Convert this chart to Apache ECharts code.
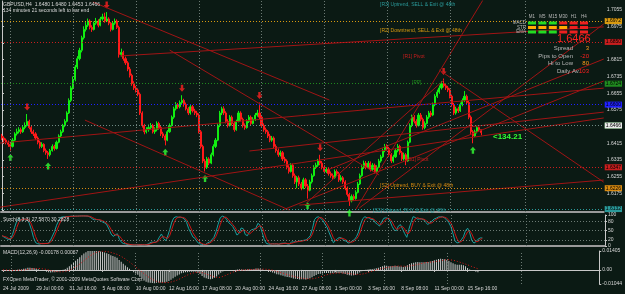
<!DOCTYPE html>
<html>
<head>
<meta charset="utf-8">
<script src="https://cdn.jsdelivr.net/npm/echarts@6/dist/echarts.min.js"></script>
<style>
  html, body { margin: 0; padding: 0; background: #0b1a14; }
  #chart { width: 625px; height: 294px; }
</style>
</head>
<body>
<div id="chart"></div>
<script>
// GBPUSD H4, prices stored as pips above 1.6000
const PIP_BASE = 1.6;
const firstOpen = 450;
const closes = [
  440,430,420,410,400,430,460,470,480,470,490,500,520,490,470,460,
  440,420,400,410,380,370,360,380,400,390,
  420,450,470,500,520,560,620,680,720,780,820,860,920,960,
  980,1000,970,960,990,1000,980,1010,1020,1000,1010,990,
  960,990,1000,970,840,
  850,820,800,770,740,700,680,670,650,
  560,500,470,480,
  490,500,470,480,510,490,460,450,430,470,
  500,540,580,600,590,610,620,
  600,580,560,590,570,560,550,
  470,400,330,300,340,320,360,
  400,430,500,560,580,
  560,520,500,540,510,480,520,560,530,500,490,
  520,540,510,530,550,560,540,
  500,480,470,450,430,440,400,380,360,370,340,330,
  300,280,310,260,230,250,220,200,240,210,190,
  230,260,300,310,330,320,300,280,290,270,
  260,250,280,270,240,250,230,
  200,170,140,160,150,180,
  220,260,300,320,
  300,320,290,310,280,300,330,
  350,380,400,390,360,330,350,380,400,370,340,360,330,
  420,500,540,
  520,500,550,530,490,510,540,560,550,
  600,640,660,
  680,700,690,680,670,
  640,600,560,580,570,
  600,620,640,610,
  540,470,450,
  470,490,480,466
];
const highs = [
  460,448,438,428,418,440,468,485,492,490,500,515,555,528,498,480,
  468,448,428,420,415,390,378,388,410,408,
  428,458,480,508,530,568,630,690,735,790,832,872,930,975,
  995,1012,1008,980,998,1015,1008,1020,1035,1040,1043,1018,
  995,1000,1012,1008,978,
  868,858,830,808,780,748,712,690,678,
  658,568,508,492,
  505,512,508,492,520,518,498,470,458,478,
  510,548,590,612,608,620,645,
  628,610,588,598,598,580,570,
  558,478,408,340,350,348,370,
  410,440,510,570,590,
  592,568,530,550,548,518,528,570,568,538,510,
  530,550,548,540,560,575,610,
  548,510,490,478,460,450,448,410,390,380,378,350,
  338,310,320,318,270,258,260,230,250,248,220,
  240,270,310,322,340,360,330,310,300,298,
  280,270,290,290,278,262,258,
  238,208,178,170,170,190,
  230,270,310,332,
  330,330,328,320,318,310,340,
  360,390,412,410,398,368,360,390,412,408,378,370,368,
  428,510,552,
  550,530,560,560,538,520,550,570,570,
  610,650,672,
  692,712,725,700,690,
  678,648,608,590,590,
  610,630,665,648,
  618,548,478,
  480,498,495,480
];
const lows = [
  430,420,410,398,380,395,425,452,462,460,465,482,495,482,460,450,
  432,410,390,392,372,360,340,352,375,380,
  385,415,442,465,492,515,555,612,672,712,770,812,850,912,
  950,972,960,948,955,982,970,975,1002,992,995,980,
  950,955,982,962,825,
  830,810,790,760,730,690,670,658,640,
  550,490,458,462,
  470,482,462,460,472,480,450,440,405,425,
  465,495,532,572,580,582,602,
  590,572,550,552,562,550,540,
  462,390,320,280,292,310,315,
  352,392,425,492,550,
  550,510,490,495,500,470,475,515,520,490,480,
  485,512,500,505,522,542,530,
  490,470,460,440,420,422,390,370,350,352,330,320,
  290,270,275,250,220,200,210,190,195,200,150,
  185,222,255,292,302,310,290,270,272,260,
  250,240,245,260,230,232,220,
  190,160,115,132,140,145,
  175,215,255,292,
  290,292,280,282,270,272,295,
  322,345,372,380,350,320,322,345,372,360,330,332,310,
  325,415,492,
  510,490,495,520,480,482,505,532,540,
  545,592,632,
  652,672,682,670,660,
  630,590,550,552,560,
  565,592,612,600,
  530,460,415,
  445,462,470,453
];
const tickLabels = ['24 Jul 2009','29 Jul 00:00','31 Jul 16:00','5 Aug 08:00','10 Aug 00:00',
  '12 Aug 16:00','17 Aug 08:00','20 Aug 00:00','24 Aug 16:00','27 Aug 08:00','1 Sep 00:00',
  '3 Sep 16:00','8 Sep 08:00','11 Sep 00:00','15 Sep 16:00'];
const priceTicks = [1.6095,1.6175,1.6255,1.6335,1.6415,1.6495,1.6575,1.6655,1.6735,1.6815,1.6895,1.6975,1.7055];
const weekStarts = [4, 34, 64, 94, 124, 154, 184, 214, 250];
const fractalHighs = [12, 50, 86, 123, 152, 211];
const fractalLows = [4, 22, 78, 97, 146, 166, 225];
// pivot levels: [price, line colour]
const pivotLevels = [
  [1.7090, '#2a9a9a'], [1.6972, '#d89a10'], [1.6850, '#c81e1e'], [1.6724, '#1f8a1f'],
  [1.6600, '#2020ff'], [1.6488, '#1f8a1f'], [1.6347, '#c81e1e'], [1.6226, '#d88a10'], [1.6132, '#2a9a9a']
];
const bidPrice = 1.6466;
// trend lines in (bar index, price)
const trendLines = [
  [[43.4,1.7091],[156.4,1.6622]], [[39.6,1.6526],[137.3,1.6095]], [[-1,1.6109],[287.5,1.6536]],
  [[-1,1.6416],[287.5,1.6679]], [[80.1,1.6861],[180.2,1.6263]], [[168.8,1.6095],[229.8,1.7101]],
  [[170.7,1.6105],[287.5,1.6986]], [[208.9,1.6766],[287.5,1.6229]], [[156.4,1.6291],[287.5,1.6818]],
  [[118.2,1.6378],[287.5,1.6564]], [[134,1.6095],[287.5,1.6713]], [[142.1,1.6119],[287.5,1.6239]],
  [[145.4,1.6129],[211.2,1.6718]], [[56.2,1.6833],[287.5,1.6972]]
];
const SLOTS = 288;

const px = p => +(PIP_BASE + p / 10000).toFixed(4);
const n = closes.length;
const opens = closes.map((c, i) => i === 0 ? firstOpen : closes[i - 1]);
const candles = closes.map((c, i) => [px(opens[i]), px(c), px(lows[i]), px(highs[i])]);
const cats = Array.from({ length: SLOTS }, (_, i) => i);

// Stochastic (8,3,3)
function sma(arr, p) {
  return arr.map((v, i) => {
    const s = arr.slice(Math.max(0, i - p + 1), i + 1);
    return s.reduce((a, b) => a + b, 0) / s.length;
  });
}
const stochMain = [];
for (let i = 0; i < n; i++) {
  let num = 0, den = 0;
  for (let j = Math.max(0, i - 2); j <= i; j++) {
    let hh = -1e9, ll = 1e9;
    for (let m = Math.max(0, j - 7); m <= j; m++) { hh = Math.max(hh, highs[m]); ll = Math.min(ll, lows[m]); }
    num += closes[j] - ll; den += hh - ll;
  }
  stochMain.push(den ? 100 * num / den : 50);
}
const stochSig = sma(stochMain, 3);

// MACD (12,26,9)
function ema(arr, p) {
  const k = 2 / (p + 1); let e = arr[0];
  return arr.map(v => (e = v * k + e * (1 - k)));
}
const cp = closes.map(px);
const e12 = ema(cp, 12), e26 = ema(cp, 26);
const macd = cp.map((v, i) => e12[i] - e26[i]);
const macdSig = sma(macd, 9);

const FONT = 'Liberation Sans';
const gridV = weekStarts.map(w => ({ xAxis: w }));
const vLineStyle = { color: '#6c7a74', type: [1, 2], width: 1 };

function catAxis(grid, showLabels) {
  return {
    type: 'category', gridIndex: grid, data: cats, boundaryGap: true,
    axisLine: { lineStyle: { color: showLabels ? '#c8c8c8' : '#9a9a9a', width: showLabels ? 1 : 2 } },
    axisTick: showLabels ? { show: true, length: 2, alignWithLabel: true, interval: i => i % 16 === 0 && i <= 224, lineStyle: { color: '#c8c8c8' } } : { show: false },
    axisLabel: showLabels ? {
      show: true, interval: i => i % 16 === 0 && i <= 224, align: 'left', margin: 2,
      fontSize: 5, fontFamily: FONT, color: '#d8d8d8',
      formatter: (v, i) => tickLabels[i / 16] || ''
    } : { show: false },
    splitLine: { show: false }
  };
}
function valAxis(grid, min, max, ticks, fmt) {
  return {
    type: 'value', gridIndex: grid, position: 'right', min, max,
    axisLine: { show: true, lineStyle: { color: '#c8c8c8' } },
    axisTick: { show: true, length: 2, customValues: ticks, lineStyle: { color: '#c8c8c8' } },
    axisLabel: { show: true, customValues: ticks, formatter: fmt, fontSize: 5, fontFamily: FONT, color: '#d8d8d8', margin: 3 },
    splitLine: { show: false }
  };
}

const pivotMarks = pivotLevels.map(([p, c]) => ({
  yAxis: p, lineStyle: { color: c, type: [1, 2], width: 1 },
  label: { show: true, position: 'end', distance: 1, formatter: p.toFixed(4), backgroundColor: c, color: '#000', fontSize: 5, fontFamily: FONT, padding: [1, 1, 0, 1] }
}));
pivotMarks.push({
  yAxis: bidPrice, lineStyle: { color: '#6f8a84', type: [1, 2], width: 1 },
  label: { show: true, position: 'end', distance: 1, formatter: bidPrice.toFixed(4), backgroundColor: '#e8e8e8', color: '#000', fontSize: 5, fontFamily: FONT, padding: [1, 1, 0, 1] }
});

const arrowDown = 'path://M3,0 L7,0 L7,5 L10,5 L5,10 L0,5 L3,5 Z';
const arrowUp = 'path://M5,0 L10,5 L7,5 L7,10 L3,10 L3,5 L0,5 Z';

const series = [
  {
    type: 'candlestick', xAxisIndex: 0, yAxisIndex: 0, data: candles, barWidth: 1.6,
    itemStyle: { color: '#11ee11', color0: '#ff1a1a', borderColor: '#11ee11', borderColor0: '#ff1a1a', borderWidth: 1 },
    markLine: { silent: true, symbol: 'none', animation: false, data: gridV.map(d => Object.assign({ lineStyle: vLineStyle, label: { show: false } }, d)).concat(pivotMarks) }
  },
  {
    type: 'scatter', xAxisIndex: 0, yAxisIndex: 0, symbol: arrowDown, symbolSize: [6, 7], symbolOffset: [0, -7],
    itemStyle: { color: '#ff2020' }, data: fractalHighs.map(i => [i, px(highs[i])])
  },
  {
    type: 'scatter', xAxisIndex: 0, yAxisIndex: 0, symbol: arrowUp, symbolSize: [6, 7], symbolOffset: [0, 7],
    itemStyle: { color: '#33ff33' }, data: fractalLows.map(i => [i, px(lows[i])])
  }
];
trendLines.forEach(l => series.push({
  type: 'line', xAxisIndex: 3, yAxisIndex: 0, data: l, symbol: 'none', silent: true,
  lineStyle: { color: '#a01414', width: 1 }
}));
series.push(
  {
    type: 'line', xAxisIndex: 1, yAxisIndex: 1, data: stochMain, symbol: 'none', lineStyle: { color: '#1aa0a0', width: 1 },
    markLine: { silent: true, symbol: 'none', animation: false, label: { show: false },
      data: [20, 50, 80].map(v => ({ yAxis: v, lineStyle: vLineStyle })).concat(gridV.map(d => Object.assign({ lineStyle: vLineStyle }, d))) }
  },
  { type: 'line', xAxisIndex: 1, yAxisIndex: 1, data: stochSig, symbol: 'none', lineStyle: { color: '#d01414', width: 1 } },
  {
    type: 'bar', xAxisIndex: 2, yAxisIndex: 2, data: macd, barWidth: 1, itemStyle: { color: '#c8c8c8' },
    markLine: { silent: true, symbol: 'none', animation: false, label: { show: false }, data: gridV.map(d => Object.assign({ lineStyle: vLineStyle }, d)) }
  },
  { type: 'line', xAxisIndex: 2, yAxisIndex: 2, data: macdSig, symbol: 'none', lineStyle: { color: '#e01818', width: 1, type: [1, 2] } }
);

function txt(x, y, text, fill, size, align, weight) {
  return { type: 'text', x, y, silent: true, z: 100,
    style: { text, fill, font: (weight || 'normal') + ' ' + size + 'px ' + FONT, align: align || 'left', verticalAlign: 'middle' } };
}
const graphics = [
  txt(3, 5, 'GBPUSD,H4  1.6480 1.6480 1.6453 1.6466', '#d8d8d8', 5),
  txt(3, 11, '134 minutes 21 seconds left to bar end', '#d8d8d8', 5),
  txt(380, 5, '[R3] Uptrend, SELL & Exit @ 48th', '#2a9a9a', 5),
  txt(380, 31, '[R2] Downtrend, SELL & Exit @ 48th', '#d89a10', 5),
  txt(403, 57, '[R1] Pivot', '#c81e1e', 5),
  txt(412, 83, '[PP]', '#1f8a1f', 5),
  txt(407, 160, '[S1] Pivot', '#c81e1e', 5),
  txt(380, 186, '[S2] Uptrend, BUY & Exit @ 48th', '#d88a10', 5),
  txt(373, 211, '[S3] Uptrend, BUY & Exit @ 48th', '#2a9a9a', 5),
  txt(493, 137, '<134.21', '#33ff33', 8, 'left', 'bold'),
  txt(3, 220, 'Stoch(8,3,3) 27.5870 30.2828', '#d8d8d8', 5),
  txt(3, 253, 'MACD(12,26,9) -0.00178 0.00067', '#d8d8d8', 5),
  txt(3, 280, 'FXOpen MetaTrader, \u00a9 2001-2009 MetaQuotes Software Corp.', '#d8d8d8', 5),
  txt(557, 39, '1.6466', '#ff2020', 11),
  txt(573, 48, 'Spread', '#b8b8b8', 6, 'right'), txt(589, 48, '3', '#ff9a1a', 6, 'right'),
  txt(573, 56, 'Pips to Open', '#b8b8b8', 6, 'right'), txt(589, 56, '-20', '#ff2020', 6, 'right'),
  txt(573, 63.5, 'Hi to Low', '#b8b8b8', 6, 'right'), txt(589, 63.5, '80', '#ff9a1a', 6, 'right'),
  txt(580, 71, 'Daily Av.', '#b8b8b8', 6, 'right'), txt(589, 71, '103', '#ff2020', 6, 'right')
];
const tfCols = ['M1', 'M5', 'M15', 'M30', 'H1', 'H4'];
const tfRows = ['MACD', 'STR', 'EMA'];
const tfColors = [
  ['#22dd22', '#22dd22', '#22dd22', '#ee2020', '#ee2020', '#ee2020'],
  ['#ffaa00', '#ffaa00', '#ffaa00', '#ffaa00', '#ee2020', '#ee2020'],
  ['#22dd22', '#22dd22', '#22dd22', '#ee2020', '#ee2020', '#ee2020']
];
tfCols.forEach((c, j) => graphics.push(txt(532 + j * 10.4, 17, c, '#b8b8b8', 4.5, 'center')));
tfRows.forEach((r, k) => {
  graphics.push(txt(526, 23 + k * 4.5, r, '#b8b8b8', 4.5, 'right'));
  tfColors[k].forEach((col, j) => graphics.push({
    type: 'rect', silent: true, z: 100, shape: { x: 528 + j * 10.4, y: 21.5 + k * 4.5, width: 8, height: 3 }, style: { fill: col }
  }));
});

const chart = echarts.init(document.getElementById('chart'), null, { renderer: 'canvas' });
chart.setOption({
  backgroundColor: '#0b1a14',
  animation: false,
  textStyle: { fontFamily: FONT },
  grid: [
    { left: 1, width: 604, top: 1, height: 211 },
    { left: 1, width: 604, top: 215, height: 31 },
    { left: 1, width: 604, top: 251, height: 33 }
  ],
  xAxis: [
    catAxis(0, false), catAxis(1, false), catAxis(2, true),
    { type: 'value', gridIndex: 0, min: -0.5, max: SLOTS - 0.5, show: false }
  ],
  yAxis: [
    valAxis(0, 1.6086, 1.7096, priceTicks, v => v.toFixed(4)),
    valAxis(1, 0, 100, [0, 20, 50, 80, 100], v => String(v)),
    valAxis(2, -0.01044, 0.01405, [-0.01044, 0, 0.01405], v => v === 0 ? '0.00' : v.toFixed(5))
  ],
  series,
  graphic: graphics
});
</script>
</body>
</html>
